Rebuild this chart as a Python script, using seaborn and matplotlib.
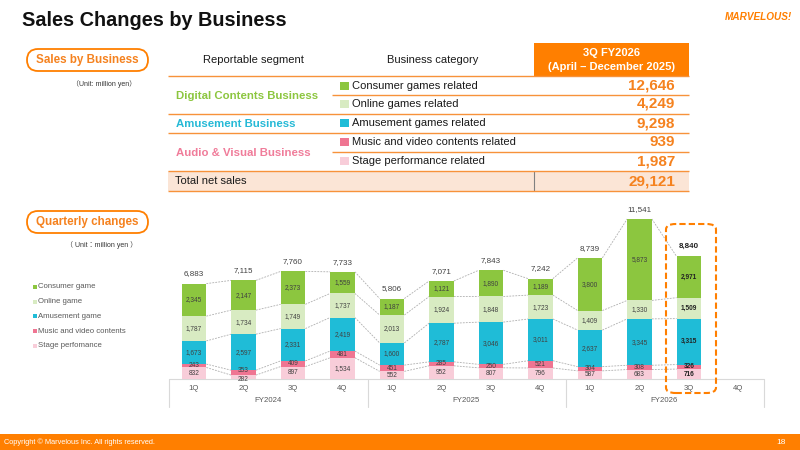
import matplotlib
matplotlib.use("Agg")
import matplotlib.pyplot as plt
import numpy as np
import pandas as pd
import seaborn as sns
from matplotlib.patches import FancyBboxPatch, Rectangle

# ---- data -------------------------------------------------------------
fiscal_years = ["FY2024", "FY2025", "FY2026"]
quarters = ["1Q", "2Q", "3Q", "4Q"]

consumer = [2345, 2147, 2373, 1559, 1187, 1121, 1890, 1189, 3800, 5873, 2971]
online = [1787, 1734, 1749, 1737, 2013, 1924, 1848, 1723, 1409, 1330, 1509]
amusement = [1673, 2597, 2331, 2419, 1600, 2787, 3046, 3011, 2637, 3345, 3315]
music = [243, 353, 409, 481, 451, 285, 250, 521, 304, 308, 326]
stage = [832, 282, 897, 1534, 552, 952, 807, 796, 587, 683, 716]
totals = [6883, 7115, 7760, 7733, 5806, 7071, 7843, 7242, 8739, 11541, 8840]

legend_labels = ["Consumer game", "Online game", "Amusement game",
                 "Music and video contents", "Stage perfomance"]

table_segments = ["Digital Contents Business", "Amusement Business",
                  "Audio & Visual Business"]
table_categories = ["Consumer games related", "Online games related",
                    "Amusement games related", "Music and video contents related",
                    "Stage performance related"]
table_values = [12646, 4249, 9298, 939, 1987]
table_total = 29121

# ---- style --------------------------------------------------------------
ORANGE = "#FF7F00"
ORANGE_TXT = "#F5821F"
LINE_OR = "#F7923A"
PEACH = "#FBE5D6"
C_CONS = "#8CC63F"
C_ONL = "#D8EBC2"
C_AMU = "#1FBCD7"
C_MUS = "#EF7592"
C_STG = "#F8CDD9"
seg_colors = [C_CONS, C_ONL, C_AMU, C_MUS, C_STG]
seg_txt_colors = ["#8CC63F", "#25B9D6", "#F07C9A"]

sns.set_theme(style="white")
plt.rcParams["font.family"] = ["Liberation Sans", "Noto Sans CJK JP", "DejaVu Sans"]

slots = [f"{fy} {q}" for fy in fiscal_years for q in quarters]
df = pd.DataFrame({
    "slot": slots[:len(consumer)],
    "consumer": consumer, "online": online, "amusement": amusement,
    "music": music, "stage": stage,
})
layers = ["stage", "music", "amusement", "online", "consumer"]
cum = df[layers].cumsum(axis=1)

fig = plt.figure(figsize=(8, 4.5), dpi=100)

# background / slide axes in pixel coordinates
bg = fig.add_axes([0, 0, 1, 1])
bg.set_xlim(0, 800)
bg.set_ylim(450, 0)
bg.axis("off")

bg.text(22, 20, "Sales Changes by Business", fontsize=14.3, fontweight="bold",
        color="#111111", va="center", ha="left")
bg.text(758, 17, "MARVELOUS!", fontsize=7.2, fontweight="heavy", fontstyle="italic",
        color=ORANGE, ha="center", va="center")


def pill(x0, y0, w, h, label):
    bg.add_patch(FancyBboxPatch((x0, y0), w, h,
                                boxstyle=f"round,pad=0,rounding_size={h / 2}",
                                fc="white", ec=ORANGE, lw=1.3))
    bg.text(x0 + w / 2, y0 + h / 2 + 0.5, label, fontsize=8.4, fontweight="bold",
            color=ORANGE_TXT, ha="center", va="center")


pill(27, 49, 121, 22, "Sales by Business")
bg.text(104, 84, "（Unit: million yen）", fontsize=5, color="#333333",
        ha="center", va="center")

# ---- table -------------------------------------------------------------
TL, TR, TDIV = 168, 689, 534
bg.add_patch(Rectangle((TDIV, 43), TR - TDIV, 33, fc=ORANGE, ec="none"))
bg.text((TDIV + TR) / 2, 53, "3Q FY2026", color="white", fontsize=8,
        fontweight="bold", ha="center", va="center")
bg.text((TDIV + TR) / 2, 67, "(April – December 2025)", color="white", fontsize=8,
        fontweight="bold", ha="center", va="center")
bg.text(253, 60, "Reportable segment", fontsize=8, color="#1a1a1a",
        ha="center", va="center")
bg.text(433, 60, "Business category", fontsize=8, color="#1a1a1a",
        ha="center", va="center")

bg.add_patch(Rectangle((TL, 171), TR - TL, 20, fc=PEACH, ec="none"))
bg.plot([TDIV, TDIV], [171, 191], color="#808080", lw=0.8)

for y, x0 in [(76, TL), (95, 332), (114, TL), (133, TL), (152, 332),
              (171, TL), (191, TL)]:
    bg.plot([x0, TR], [y, y], color=LINE_OR, lw=1.0, solid_capstyle="butt")

row_y = [86, 104, 123, 142, 161]
for cat, val, col, y in zip(table_categories, table_values, seg_colors, row_y):
    bg.add_patch(Rectangle((340, y - 4.5), 8.5, 8.5, fc=col, ec="none"))
    bg.text(352, y, cat, fontsize=8, color="#1a1a1a", ha="left", va="center")
    bg.text(675, y, f"{val:,}", fontsize=11, fontweight="bold", color=ORANGE_TXT,
            ha="right", va="center")

for seg, col, y in zip(table_segments, seg_txt_colors, [96, 124, 153]):
    bg.text(176, y, seg, fontsize=8.2, fontweight="bold", color=col,
            ha="left", va="center")
bg.text(175, 181, "Total net sales", fontsize=8, color="#1a1a1a",
        ha="left", va="center")
bg.text(675, 181, f"{table_total:,}", fontsize=11, fontweight="bold",
        color=ORANGE_TXT, ha="right", va="center")

# ---- quarterly chart header + legend -----------------------------------
pill(27, 211, 121, 22, "Quarterly changes")
bg.text(102, 245, "（ Unit：million yen ）", fontsize=5, color="#333333",
        ha="center", va="center")
for i, (lab, col) in enumerate(zip(legend_labels, seg_colors)):
    y = 287 + i * 14.7
    bg.add_patch(Rectangle((33, y - 2), 4, 4, fc=col, ec="none"))
    bg.text(38.5, y, lab, fontsize=5.6, color="#595959", ha="left", va="center")

# ---- stacked bars ------------------------------------------------------
BASE_Y, PX_PER_UNIT = 379, 160 / 11541
ax_h = 174
ax = fig.add_axes([169.25 / 800, (450 - BASE_Y) / 450, 594 / 800, ax_h / 450])
ax.patch.set_alpha(0)
plot_df = pd.concat([df[["slot"]], cum], axis=1)
for layer, col in zip(layers[::-1], seg_colors):
    sns.barplot(data=plot_df, x="slot", y=layer, order=slots, color=col,
                width=0.5, saturation=1, errorbar=None, linewidth=0, ax=ax)
ax.set_xlim(-0.5, len(slots) - 0.5)
ax.set_ylim(0, ax_h / PX_PER_UNIT)
ax.axis("off")

n = len(df)
for layer in layers:
    lev = cum[layer].to_numpy()
    for i in range(n - 1):
        ax.plot([i + 0.25, i + 0.75], [lev[i], lev[i + 1]], ls=(0, (2.2, 1.4)),
                color="#AFAFAF", lw=0.6, zorder=0.5)

for i in range(n):
    bold = i == n - 1
    # thin bottom pair gets its labels pushed apart a little
    tight = (df.loc[i, "stage"] + df.loc[i, "music"]) < 700
    nudge = {"stage": -1.5, "music": 1.5} if tight else {}
    below = 0
    for layer in layers:
        v = df.loc[i, layer]
        ax.annotate(f"{v:,}", (i, below + v / 2), xytext=(0, nudge.get(layer, 0)),
                    textcoords="offset points", ha="center", va="center",
                    fontsize=4.7, color="#222222" if bold else "#404040",
                    fontweight="bold" if bold else "normal")
        below += v
    ax.annotate(f"{totals[i]:,}", (i, below), xytext=(0, 7),
                textcoords="offset points", ha="center", va="center",
                fontsize=5.8, color="#222222" if bold else "#404040",
                fontweight="bold" if bold else "normal")

# category strip under bars
slot_px = [194 + 49.5 * k for k in range(len(slots))]
bg.plot([169, 764], [BASE_Y, BASE_Y], color="#D9D9D9", lw=0.8)
for xv in [169, 368, 566, 764]:
    bg.plot([xv, xv], [BASE_Y, 407], color="#D9D9D9", lw=0.8)
for k, s in enumerate(slots):
    bg.text(slot_px[k], 388, s.split()[1], fontsize=5.6, color="#595959",
            ha="center", va="center")
for j, fy in enumerate(fiscal_years):
    bg.text((slot_px[4 * j] + slot_px[4 * j + 3]) / 2, 401, fy, fontsize=5.6,
            color="#595959", ha="center", va="center")

# highlight box around current quarter
fig.add_artist(FancyBboxPatch((666 / 800, (450 - 393) / 450), 50 / 800, 169 / 450,
                              boxstyle="round,pad=0,rounding_size=0.012",
                              transform=fig.transFigure, fc="none", ec=ORANGE,
                              lw=1.5, ls=(0, (3, 1.5)), zorder=5))

# footer
bg.add_patch(Rectangle((0, 434), 800, 16, fc=ORANGE, ec="none"))
bg.text(4, 442, "Copyright © Marvelous Inc. All rights reserved.", fontsize=5.3,
        color="white", ha="left", va="center")
bg.text(781, 442, "18", fontsize=6, color="white", ha="center", va="center")

fig.savefig("out.png", dpi=100)
